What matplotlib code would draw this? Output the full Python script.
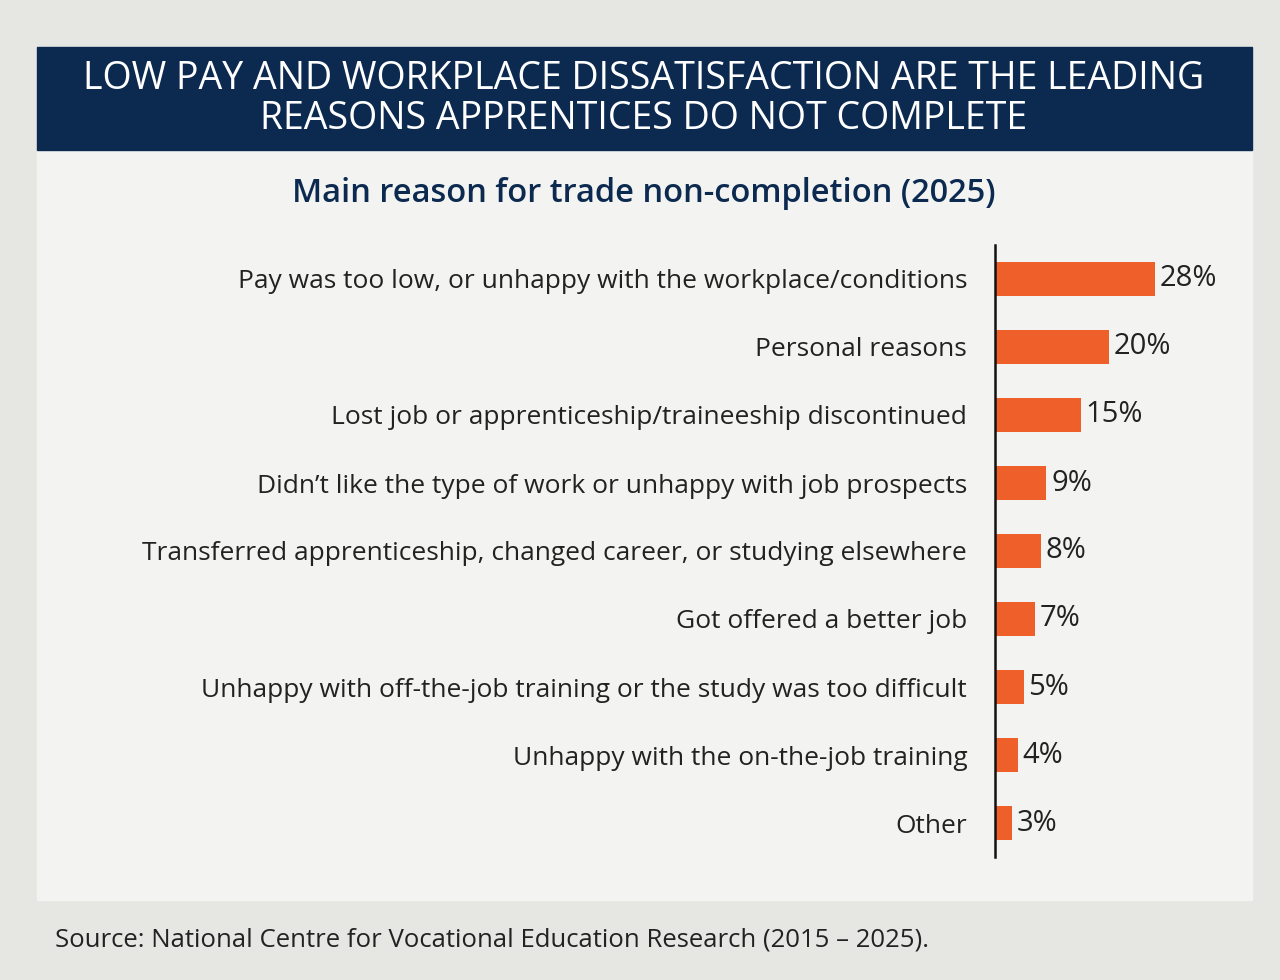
import matplotlib.pyplot as plt
from matplotlib.patches import Rectangle

reasons = [
    "Pay was too low, or unhappy with the workplace/conditions",
    "Personal reasons",
    "Lost job or apprenticeship/traineeship discontinued",
    "Didn\u2019t like the type of work or unhappy with job prospects",
    "Transferred apprenticeship, changed career, or studying elsewhere",
    "Got offered a better job",
    "Unhappy with off-the-job training or the study was too difficult",
    "Unhappy with the on-the-job training",
    "Other",
]
shares = [28, 20, 15, 9, 8, 7, 5, 4, 3]

navy = "#0c2a50"
orange = "#ef5f2a"
plt.rcParams['font.family'] = ['Open Sans', 'DejaVu Sans']

W, H = 1280, 980
fig = plt.figure(figsize=(12.8, 9.8), dpi=100, facecolor="#e6e6e2")

# panel and title band (figure pixel coords -> fraction)
def box(x0, y0, x1, y1, color):
    fig.patches.append(Rectangle((x0 / W, 1 - y1 / H), (x1 - x0) / W, (y1 - y0) / H,
                                 transform=fig.transFigure, color=color, zorder=-5))

box(37, 47, 1252, 900, "#f3f3f1")
box(37, 47, 1252, 150, navy)

fig.text(644 / W, 1 - 99 / H, "LOW PAY AND WORKPLACE DISSATISFACTION ARE THE LEADING\nREASONS APPRENTICES DO NOT COMPLETE",
         color="white", fontsize=27, ha="center", va="center", linespacing=1.05)
fig.text(644 / W, 1 - 193 / H, "Main reason for trade non-completion (2025)",
         color=navy, fontsize=23.5, ha="center", va="center", fontweight="semibold")
fig.text(55 / W, 1 - 940 / H, "Source: National Centre for Vocational Education Research (2015 \u2013 2025).",
         color="#222222", fontsize=18.5, ha="left", va="center")

ax = fig.add_axes([995 / W, 1 - 857 / H, (1252 - 995) / W, (857 - 245) / H])
ax.set_facecolor("none")
y = list(range(len(reasons)))
ax.barh(y, shares, height=0.5, color=orange)
ax.set_xlim(0, 257 / 5.72)
ax.set_ylim(8.5, -0.5)
for i, v in enumerate(shares):
    ax.text(v + 0.8, i, f"{v}%", va="center", ha="left", fontsize=21, color="#222222")
ax.set_yticks(y)
ax.set_yticklabels(reasons, fontsize=19, color="#222222")
ax.tick_params(axis="y", length=0, pad=20)
ax.set_xticks([])
for s in ["top", "right", "bottom"]:
    ax.spines[s].set_visible(False)
ax.spines["left"].set_linewidth(1.8)
ax.spines["left"].set_color("#111111")

fig.savefig("out.png", dpi=100, facecolor=fig.get_facecolor())
